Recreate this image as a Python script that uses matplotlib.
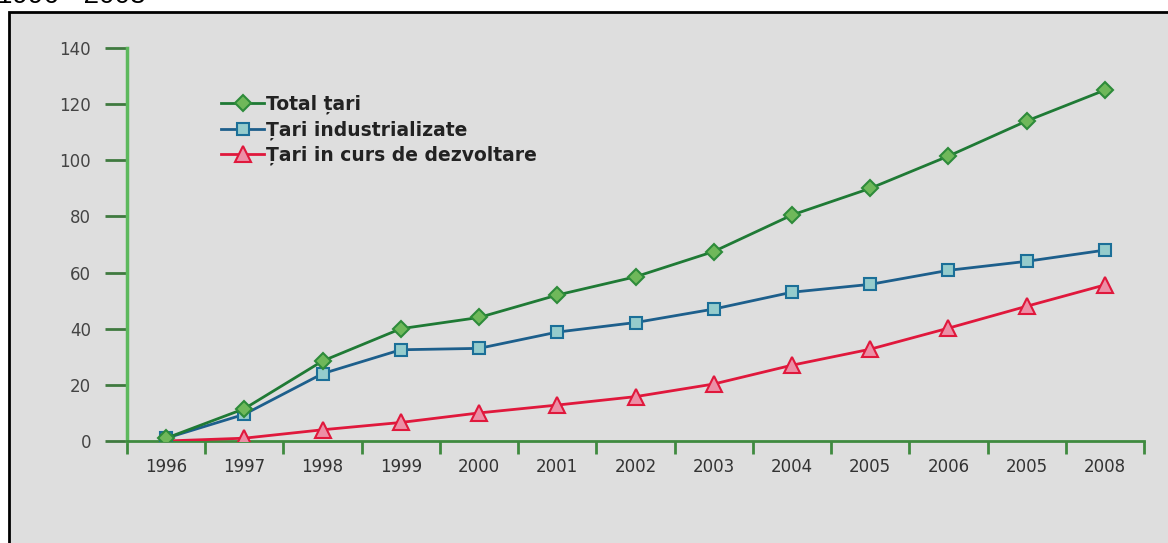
import matplotlib.pyplot as plt
from matplotlib.patches import Rectangle

# annual values, number of countries
years = ['1996', '1997', '1998', '1999', '2000', '2001', '2002',
         '2003', '2004', '2005', '2006', '2005', '2008']
total = [1, 11.5, 28.5, 40, 44, 52, 58.5, 67.5, 80.5, 90, 101.5, 114, 125]
industrial = [1, 9.5, 24, 32.5, 33, 38.8, 42.2, 47, 53, 55.8, 60.8, 64, 68]
developing = [0, 1, 4, 6.6, 10, 12.8, 15.8, 20.3, 27, 32.7, 40.2, 48, 55.6]
y_ticks = [0, 20, 40, 60, 80, 100, 120, 140]

W, H = 1168, 543
fig = plt.figure(figsize=(W / 100, H / 100), dpi=100)
fig.patch.set_facecolor('white')

# grey panel with black frame
fig.patches.append(Rectangle((9 / W, -0.1), 1.1, (H - 12) / H + 0.1,
                             transform=fig.transFigure, facecolor='#dedede',
                             edgecolor='black', linewidth=2, zorder=-10))
fig.text(-3 / W, (H - 3) / H, '1996 - 2008', fontsize=20,
         family='Liberation Sans', va='baseline', ha='left')

ax = fig.add_axes([127 / W, (H - 441) / H, (1144 - 127) / W, (441 - 48) / H])
ax.set_facecolor('none')

x = list(range(len(years)))
ax.plot(x, total, color='#1f7a35', lw=2, marker='D', ms=8.5,
        mfc='#6fb85a', mec='#2e8b3a', mew=1.5, label='Total țari', zorder=5)
ax.plot(x, industrial, color='#1d5f8c', lw=2, marker='s', ms=9,
        mfc='#95cccc', mec='#1b6f98', mew=1.5, label='Țari industrializate', zorder=4)
ax.plot(x, developing, color='#e0183c', lw=2, marker='^', ms=12,
        mfc='#ec8fa6', mec='#e0183c', mew=1.5, label='Țari in curs de dezvoltare', zorder=3)

ax.set_xlim(-0.5, len(years) - 0.5)
ax.set_ylim(0, 140)
ax.set_yticks(y_ticks)
ax.set_yticklabels([str(v) for v in y_ticks], fontsize=12, color='#444444')

# category labels sit between the tick marks
ax.set_xticks([i - 0.5 for i in range(len(years) + 1)])
ax.set_xticklabels([])
ax.set_xticks(x, minor=True)
ax.set_xticklabels(years, minor=True, fontsize=12, color='#333333')
ax.tick_params(axis='x', which='minor', length=0, pad=12)
ax.tick_params(axis='x', which='major', direction='out', length=9,
               width=2, color='#3f8a3f')
ax.tick_params(axis='y', direction='out', length=16, width=2,
               color='#3f7a3f', pad=10)

for s in ['top', 'right']:
    ax.spines[s].set_visible(False)
ax.spines['left'].set_color('#5cb85c')
ax.spines['left'].set_linewidth(2.5)
ax.spines['bottom'].set_color('#3f8a3f')
ax.spines['bottom'].set_linewidth(2)

leg = ax.legend(loc='upper left', bbox_to_anchor=(0.085, 0.9), frameon=False,
                handlelength=2.3, handletextpad=0.12, labelspacing=0.32,
                prop={'size': 13.5, 'weight': 'bold'}, borderaxespad=0)
for t in leg.get_texts():
    t.set_color('#222222')

fig.savefig('out.png', dpi=100, facecolor=fig.get_facecolor())
